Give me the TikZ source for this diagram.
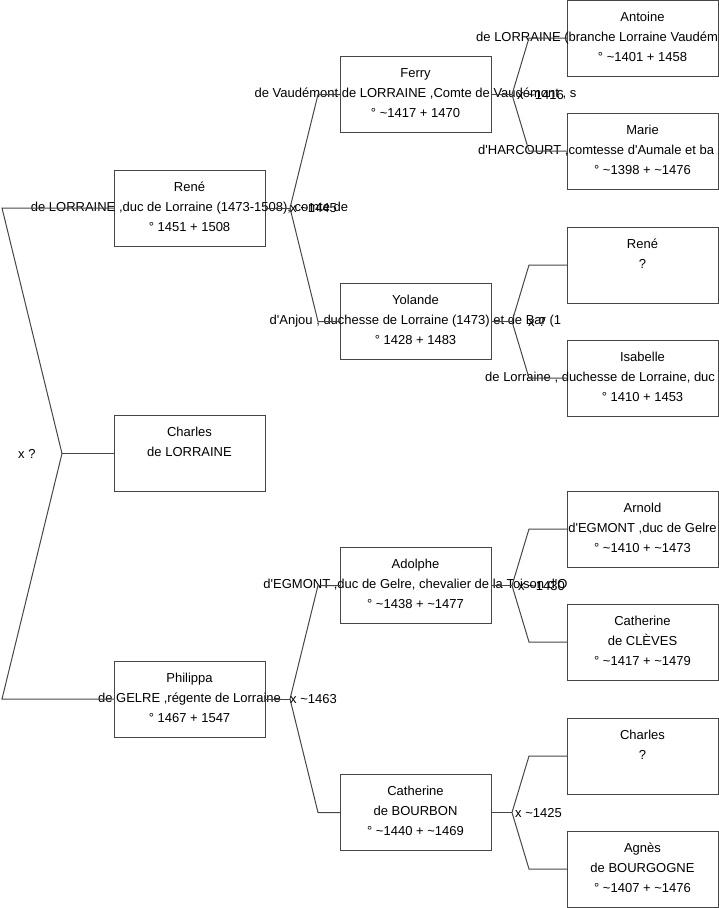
\documentclass[tikz,border=0pt]{standalone}
\usepackage{fontspec}
\setmainfont{Liberation Sans}
\definecolor{linecol}{RGB}{70,70,70}
\newcommand{\ap}{\textquotesingle}
\tikzset{
  pbox/.style={draw=linecol, line width=1pt, minimum width=151pt, minimum height=76pt, inner sep=0pt, outer sep=0pt},
  ptext/.style={font=\fontsize{13}{15}\selectfont, inner sep=0pt, anchor=base, text=black},
  ptextw/.style={ptext, anchor=base west},
  mlabel/.style={ptext, anchor=base west},
  conn/.style={draw=linecol, line width=1pt},
}
% three-line person box, centred lines
\newcommand{\persC}[6]{%
  \node[pbox] (#1) at (#2,#3) {};
  \node[ptext] (#1-a) at (#2,#3-17) {#4};
  \node[ptext] (#1-b) at (#2,#3+3) {#5};
  \node[ptext] (#1-c) at (#2,#3+23) {#6};
}
% two-line person box
\newcommand{\persT}[5]{%
  \node[pbox] (#1) at (#2,#3) {};
  \node[ptext] (#1-a) at (#2,#3-17) {#4};
  \node[ptext] (#1-b) at (#2,#3+3) {#5};
}
% three-line person box, second line starting at a given x
\newcommand{\persL}[7]{%
  \node[pbox] (#1) at (#2,#3) {};
  \node[ptext] (#1-a) at (#2,#3-17) {#4};
  \node[ptextw] (#1-b) at (#7,#3+3) {#5};
  \node[ptext] (#1-c) at (#2,#3+23) {#6};
}
% fork from a parent box to two ancestor boxes
\newcommand{\forkto}[5]{%
  \path (#1.east) ++(#2,0) coordinate (#1-f);
  \draw[conn] (#1.east) -- (#1-f);
  \draw[conn] (#1-f) -- ([xshift=-#3pt]#4.west) -- (#4.west);
  \draw[conn] (#1-f) -- ([xshift=-#3pt]#5.west) -- (#5.west);
}
\begin{document}
\begin{tikzpicture}[x=1pt,y=-1pt]
\useasboundingbox (0,0) rectangle (719,908);
\clip (0,0) rectangle (719,908);

% generation 1
\persC{rene}{189.5}{208}{René}{de LORRAINE ,duc de Lorraine (1473-1508), comte de}{° 1451 + 1508}
\persT{charles}{189.5}{453.5}{Charles}{de LORRAINE}
\persC{philippa}{189.5}{699}{Philippa}{de GELRE ,régente de Lorraine}{° 1467 + 1547}

% generation 2
\persC{ferry}{415.5}{94.5}{Ferry}{de Vaudémont de LORRAINE ,Comte de Vaudémont , s}{° \textasciitilde 1417 + 1470}
\persC{yolande}{415.5}{321.5}{Yolande}{d\ap Anjou , duchesse de Lorraine (1473) et de Bar (1}{° 1428 + 1483}
\persC{adolphe}{415.5}{585.5}{Adolphe}{d\ap EGMONT ,duc de Gelre, chevalier de la Toison d\ap O}{° \textasciitilde 1438 + \textasciitilde 1477}
\persC{catherineb}{415.5}{812.5}{Catherine}{de BOURBON}{° \textasciitilde 1440 + \textasciitilde 1469}

% generation 3
\persL{antoine}{642.5}{38}{Antoine}{de LORRAINE (branche Lorraine Vaudém}{° \textasciitilde 1401 + 1458}{476}
\persL{marie}{642.5}{151}{Marie}{d\ap HARCOURT ,comtesse d\ap Aumale et ba}{° \textasciitilde 1398 + \textasciitilde 1476}{478}
\persT{reneq}{642.5}{265}{René}{?}
\persL{isabelle}{642.5}{378}{Isabelle}{de Lorraine , duchesse de Lorraine, duc}{° 1410 + 1453}{485}
\persC{arnold}{642.5}{529}{Arnold}{d\ap EGMONT ,duc de Gelre}{° \textasciitilde 1410 + \textasciitilde 1473}
\persC{catherinec}{642.5}{642}{Catherine}{de CLÈVES}{° \textasciitilde 1417 + \textasciitilde 1479}
\persT{charlesq}{642.5}{756}{Charles}{?}
\persC{agnes}{642.5}{869}{Agnès}{de BOURGOGNE}{° \textasciitilde 1407 + \textasciitilde 1476}

% root fork (to the left)
\coordinate (f0) at (62,453.5);
\coordinate (f0a) at (2,208);
\coordinate (f0b) at (2,699);
\draw[conn] (charles.west) -- (f0);
\draw[conn] (f0) -- (f0a) -- (rene.west);
\draw[conn] (f0) -- (f0b) -- (philippa.west);

% forks to ancestors
\forkto{rene}{25}{22}{ferry}{yolande}
\forkto{philippa}{25}{22}{adolphe}{catherineb}
\forkto{ferry}{21}{38}{antoine}{marie}
\forkto{yolande}{21}{38}{reneq}{isabelle}
\forkto{adolphe}{21}{38}{arnold}{catherinec}
\forkto{catherineb}{21}{38}{charlesq}{agnes}

% marriage labels
\node[mlabel] (m0) at (18,458) {x ?};
\node[mlabel] (m1) at ([yshift=-4.5pt]rene-f) {x \textasciitilde 1445};
\node[mlabel] (m2) at ([yshift=-4.5pt]philippa-f) {x \textasciitilde 1463};
\node[mlabel] (m3) at ([xshift=5pt,yshift=-4.5pt]ferry-f) {x \textasciitilde 1416};
\node[mlabel] (m4) at ([xshift=16pt,yshift=-4.5pt]yolande-f) {x ?};
\node[mlabel] (m5) at ([xshift=6pt,yshift=-4.5pt]adolphe-f) {x \textasciitilde 1430};
\node[mlabel] (m6) at ([xshift=3pt,yshift=-4.5pt]catherineb-f) {x \textasciitilde 1425};
\end{tikzpicture}
\end{document}
